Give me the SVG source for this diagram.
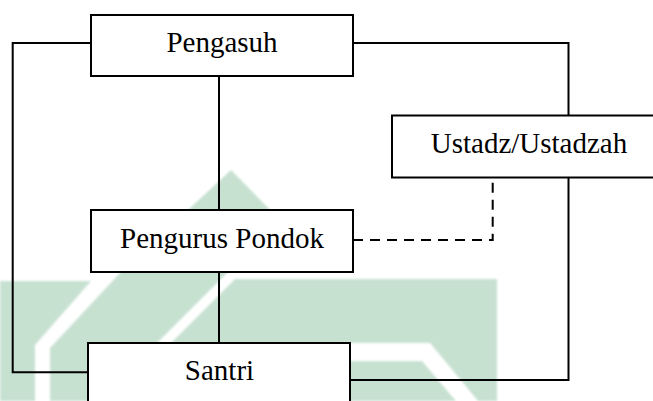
<svg xmlns="http://www.w3.org/2000/svg" width="653" height="401" viewBox="0 0 653 401">
  <style>
    .box { fill: #ffffff; stroke: #000000; stroke-width: 2; }
    .label { font-family: "Liberation Serif", "Times New Roman", serif; font-size: 29px; fill: #000000; text-anchor: middle; }
    .link { fill: none; stroke: #000000; stroke-width: 2; }
    .dashed { stroke-dasharray: 10 7; }
    .mark { fill: #c7e1d1; }
  </style>
  <defs>
    <filter id="soft" x="-5%" y="-5%" width="110%" height="110%">
      <feGaussianBlur stdDeviation="0.8"/>
    </filter>
  </defs>
  <rect x="0" y="0" width="653" height="401" fill="#ffffff"/>

  <!-- background emblem -->
  <g id="emblem" filter="url(#soft)">
    <polygon class="mark" points="0,281 91,281 35,345 35,401 0,401"/>
    <polygon class="mark" points="231,170 280,220 99,401 50,401 50,348 120,273"/>
    <polygon class="mark" points="235,279 497,279 497,401 113,401"/>
    <polygon fill="#ffffff" points="340,343 430,343 478,401 456,401 422,361 340,361"/>
  </g>

  <!-- connectors -->
  <g id="connectors">
    <path class="link" d="M91,43 H12.7 V372.3 H88"/>
    <path class="link" d="M353,43 H568.5 V115.5"/>
    <path class="link" d="M568.5,177.5 V380 H350"/>
    <path class="link" d="M219,76 V210"/>
    <path class="link" d="M219,272 V343"/>
    <path class="link dashed" d="M353,240 H492.7 V177.5"/>
  </g>

  <!-- nodes -->
  <g id="pengasuh">
    <rect class="box" x="91" y="15" width="262" height="61"/>
    <text class="label" x="222" y="52">Pengasuh</text>
  </g>
  <g id="ustadz">
    <rect class="box" x="392" y="115.5" width="280" height="62"/>
    <text class="label" x="529" y="153">Ustadz/Ustadzah</text>
  </g>
  <g id="pengurus">
    <rect class="box" x="91" y="210" width="262" height="62"/>
    <text class="label" x="222" y="248">Pengurus Pondok</text>
  </g>
  <g id="santri">
    <rect class="box" x="88" y="343" width="262" height="70"/>
    <text class="label" x="219.5" y="380">Santri</text>
  </g>
</svg>
